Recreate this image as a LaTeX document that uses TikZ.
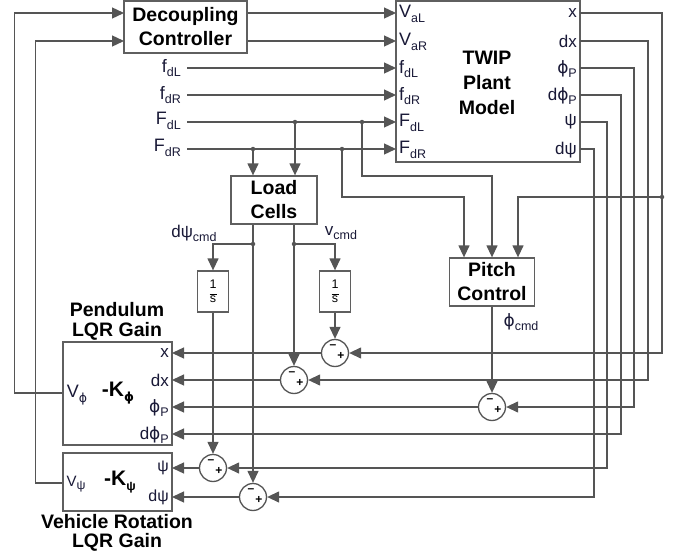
\documentclass[tikz,border=0pt]{standalone}
\usepackage{fontspec}
\setmainfont{Liberation Sans}
\newfontfamily\gk{DejaVu Sans}
\usetikzlibrary{arrows.meta}
\definecolor{wirec}{RGB}{85,85,85}
\definecolor{boxc}{RGB}{95,95,95}
\definecolor{sigc}{RGB}{25,25,55}
\newcommand{\lo}[1]{\raisebox{-.45ex}{\fontsize{12.5}{12.5}\selectfont #1}}
\newcommand{\ph}{{\gk ϕ}}

\begin{document}
\begin{tikzpicture}[x=1pt, y=-1pt,
    wire/.style={draw=wirec, line width=1.3pt},
    arr/.style={wire, -{Triangle[length=12pt,width=11pt]}},
    block/.style={draw=boxc, line width=1.3pt, fill=white, align=center,
        font=\fontsize{19.5}{24}\selectfont\bfseries, inner sep=0pt},
    title/.style={align=center, font=\fontsize{19.5}{20}\selectfont\bfseries},
    port/.style={text=sigc, font=\fontsize{18}{18}\selectfont, inner sep=1pt},
    dot/.style={circle, fill=wirec, inner sep=0pt, minimum size=4.5pt},
    sumnode/.style={circle, draw=wirec, line width=1.3pt, fill=white,
        minimum size=27pt, inner sep=0pt,
        path picture={
            \node[font=\fontsize{12}{12}\selectfont\bfseries] at ([xshift=-2pt,yshift=6pt]path picture bounding box.center) {–};
            \node[font=\fontsize{12}{12}\selectfont\bfseries] at ([xshift=6pt,yshift=-3pt]path picture bounding box.center) {+};
        }}]
    \useasboundingbox (0,0) rectangle (681,554);

    % blocks
    \node[block, minimum width=123pt, minimum height=52pt] (dec) at (185.5,27) {Decoupling\\Controller};
    \node[block, minimum width=184pt, minimum height=161pt] (plant) at (488,81.5) {};
    \node[title, font=\fontsize{19.5}{25}\selectfont\bfseries] (twip) at (487,83) {TWIP\\Plant\\Model};
    \node[block, minimum width=86pt, minimum height=48pt] (load) at (274,200) {Load\\Cells};
    \node[block, minimum width=85pt, minimum height=48pt] (pitch) at (492,282) {Pitch\\Control};
    \node[block, minimum width=31pt, minimum height=41pt, font=\fontsize{12.5}{10}\selectfont] (intL) at (213,291.5)
        {1\\[-4pt]\rule{7pt}{0.7pt}\\[-2pt]s};
    \node[block, minimum width=31pt, minimum height=41pt, font=\fontsize{12.5}{10}\selectfont] (intR) at (335,291.5)
        {1\\[-4pt]\rule{7pt}{0.7pt}\\[-2pt]s};
    \node[block, minimum width=109pt, minimum height=103pt] (pend) at (117.5,393.5) {};
    \node[block, minimum width=109pt, minimum height=58pt] (veh) at (117.5,482) {};
    \node[title] (pendT) at (117,321) {Pendulum\\LQR Gain};
    \node[title, font=\fontsize{19.5}{19}\selectfont\bfseries] (vehT) at (117,533) {Vehicle Rotation\\LQR Gain};

    % plant ports
    \coordinate (inVaL) at (396,13);
    \coordinate (inVaR) at (396,41);
    \coordinate (infdL) at (396,68);
    \coordinate (infdR) at (396,95);
    \coordinate (inFdL) at (396,122);
    \coordinate (inFdR) at (396,149);
    \coordinate (outx) at (580,13);
    \coordinate (outdx) at (580,41);
    \coordinate (outph) at (580,68);
    \coordinate (outdph) at (580,95);
    \coordinate (outpsi) at (580,122);
    \coordinate (outdpsi) at (580,149);
    \node[port, anchor=west] (lVaL) at (398,14) {V\lo{aL}};
    \node[port, anchor=west] (lVaR) at (398,42) {V\lo{aR}};
    \node[port, anchor=west] (lfdL) at (398,69) {f\lo{dL}};
    \node[port, anchor=west] (lfdR) at (398,96) {f\lo{dR}};
    \node[port, anchor=west] (lFdL) at (398,123) {F\lo{dL}};
    \node[port, anchor=west] (lFdR) at (398,150) {F\lo{dR}};
    \node[port, anchor=east, font=\fontsize{17}{17}\selectfont] (lx) at (578,13) {x};
    \node[port, anchor=east, font=\fontsize{17}{17}\selectfont] (ldx) at (578,41) {dx};
    \node[port, anchor=east, font=\fontsize{17}{17}\selectfont] (lph) at (578,69) {\ph\lo{P}};
    \node[port, anchor=east, font=\fontsize{17}{17}\selectfont] (ldph) at (578,96) {d\ph\lo{P}};
    \node[port, anchor=east, font=\fontsize{17}{17}\selectfont] (lpsi) at (578,122) {ψ};
    \node[port, anchor=east, font=\fontsize{17}{17}\selectfont] (ldpsi) at (578,150) {dψ};

    % disturbances
    \node[port, anchor=east] (fdL) at (182,68) {f\lo{dL}};
    \node[port, anchor=east] (fdR) at (182,95) {f\lo{dR}};
    \node[port, anchor=east] (FdL) at (182,121) {F\lo{dL}};
    \node[port, anchor=east] (FdR) at (182,148) {F\lo{dR}};
    \draw[arr, shorten <=5pt] (fdL.east |- infdL) -- (infdL);
    \draw[arr, shorten <=5pt] (fdR.east |- infdR) -- (infdR);
    \draw[arr, shorten <=5pt] (FdL.east |- inFdL) -- (inFdL);
    \draw[arr, shorten <=5pt] (FdR.east |- inFdR) -- (inFdR);
    \draw[arr] (dec.east |- inVaL) -- (inVaL);
    \draw[arr] (dec.east |- inVaR) -- (inVaR);

    % branch points
    \node[dot] (jFL1) at (295,122) {};
    \node[dot] (jFL2) at (362,122) {};
    \node[dot] (jFR1) at (253,149) {};
    \node[dot] (jFR2) at (342,149) {};
    \node[dot] (jx) at (662,197) {};
    \node[dot] (jlcL) at (253,244) {};
    \node[dot] (jlcR) at (294,244) {};

    \draw[arr] (jFR1) -- (jFR1 |- load.north);
    \draw[arr] (jFL1) -- (jFL1 |- load.north);
    \draw[arr] (jFL2) -- (362,176) -| (pitch.north);
    \draw[arr] (jFR2) -- (342,197) -| ([xshift=-28pt]pitch.north);
    \draw[arr] (jx) -| ([xshift=26pt]pitch.north);

    % command labels
    \node[port, font=\fontsize{17}{17}\selectfont] (dpsicmd) at (194,233) {dψ\lo{cmd}};
    \node[port, font=\fontsize{17}{17}\selectfont] (vcmd) at (341,233) {v\lo{cmd}};
    \node[port, font=\fontsize{17}{17}\selectfont] (phcmd) at (521,322) {\ph\lo{cmd}};

    % summing junctions
    \node[sumnode] (sx) at (335,353) {};
    \node[sumnode] (sdx) at (294,380) {};
    \node[sumnode] (sph) at (492,407) {};
    \node[sumnode] (spsi) at (213,468) {};
    \node[sumnode] (sdpsi) at (253,497) {};

    \draw[arr] (load.south -| jlcL) -- (sdpsi);
    \draw[arr] (load.south -| jlcR) -- (sdx);
    \draw[arr] (jlcL) -| (intL.north);
    \draw[arr] (jlcR) -| (intR.north);
    \draw[arr] (intL) -- (spsi);
    \draw[arr] (intR) -- (sx);
    \draw[arr] (pitch) -- (sph);

    % feedback from plant
    \coordinate (px) at (172,353);
    \coordinate (pdx) at (172,380);
    \coordinate (pph) at (172,407);
    \coordinate (pdph) at (172,434);
    \coordinate (vpsi) at (172,468);
    \coordinate (vdpsi) at (172,497);
    \draw[arr] (outx) -| (jx) |- (sx);
    \draw[arr] (outdx) -- ++(68,0) |- (sdx);
    \draw[arr] (outph) -- ++(54,0) |- (sph);
    \draw[arr] (outdph) -- ++(41,0) |- (pdph);
    \draw[arr] (outpsi) -- ++(27,0) |- (spsi);
    \draw[arr] (outdpsi) -- ++(14,0) |- (sdpsi);
    \draw[arr] (sx) -- (px);
    \draw[arr] (sdx) -- (pdx);
    \draw[arr] (sph) -- (pph);
    \draw[arr] (spsi) -- (vpsi);
    \draw[arr] (sdpsi) -- (vdpsi);

    % gain blocks
    \node[port] (pV) at (77,395) {V\lo{\ph}};
    \node[font=\fontsize{21}{21}\selectfont\bfseries] (pK) at (118,393) {-K\lo{\ph}};
    \node[port, anchor=east, font=\fontsize{17}{17}\selectfont] (lpx) at (170,353) {x};
    \node[port, anchor=east, font=\fontsize{17}{17}\selectfont] (lpdx) at (170,380) {dx};
    \node[port, anchor=east, font=\fontsize{17}{17}\selectfont] (lpph) at (170,408) {\ph\lo{P}};
    \node[port, anchor=east, font=\fontsize{17}{17}\selectfont] (lpdph) at (170,435) {d\ph\lo{P}};
    \node[port, font=\fontsize{15}{15}\selectfont] (vV) at (76,484) {V\lo{ψ}};
    \node[font=\fontsize{21}{21}\selectfont\bfseries] (vK) at (120,482) {-K\lo{ψ}};
    \node[port, anchor=east, font=\fontsize{16}{16}\selectfont] (lvpsi) at (170,468) {ψ};
    \node[port, anchor=east, font=\fontsize{16}{16}\selectfont] (lvdpsi) at (170,497) {dψ};

    \coordinate (decin1) at (124,13);
    \coordinate (decin2) at (124,41);
    \draw[arr] (pend.west |- 0,393) -- ++(-48,0) |- (decin1);
    \draw[arr] (veh.west |- 0,483) -- ++(-27,0) |- (decin2);
\end{tikzpicture}
\end{document}
